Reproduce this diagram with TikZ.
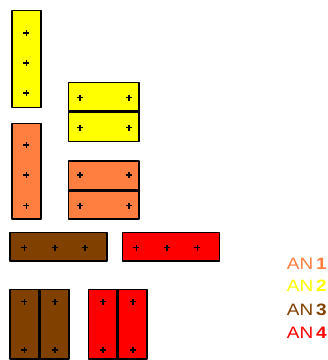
\documentclass[tikz,border=0pt]{standalone}
\usepackage{fontspec}
\usepackage{xcolor}
\usepackage{tikz}
\newfontfamily\legendfont{Liberation Sans}
\definecolor{anone}{HTML}{FF7F40}
\definecolor{antwo}{HTML}{FFFF00}
\definecolor{anthree}{HTML}{804000}
\definecolor{anfour}{HTML}{FF0000}

\begin{document}
\begin{tikzpicture}[x=1pt,y=-1pt,line join=round,
  plate/.style={draw=black,line width=1.5pt},
  seam/.style={draw=black,line width=3pt},
  bolt/.style={black,line width=1.5pt},
  legend/.style={anchor=base east,inner sep=0pt,xscale=1.15,font=\legendfont\fontsize{16.5}{16.5}\selectfont}]
  \useasboundingbox (0,0) rectangle (328,360);
  % yellow plates
  \draw[plate,fill=antwo] (12,10.5) rectangle (41,107.5);
  \draw[plate,fill=antwo] (68.5,82.5) rectangle (139,111);
  \draw[plate,fill=antwo] (68.5,111) rectangle (139,141.5);
  \draw[seam] (68.5,111) -- (139,111);
  % orange plates
  \draw[plate,fill=anone] (12,123.5) rectangle (41,219);
  \draw[plate,fill=anone] (68.5,161) rectangle (139,190);
  \draw[plate,fill=anone] (68.5,190) rectangle (139,219);
  \draw[seam] (68.5,190) -- (139,190);
  % brown and red plates
  \draw[plate,fill=anthree] (10,232.5) rectangle (107,261);
  \draw[plate,fill=anfour] (122.5,232.5) rectangle (219.5,261);
  \draw[plate,fill=anthree] (10,289.5) rectangle (39.5,359);
  \draw[plate,fill=anthree] (39.5,289.5) rectangle (69,359);
  \draw[seam] (39.5,289.5) -- (39.5,359);
  \draw[plate,fill=anfour] (88.5,289.5) rectangle (118,359);
  \draw[plate,fill=anfour] (118,289.5) rectangle (147,359);
  \draw[seam] (118,289.5) -- (118,359);
  % bolts
  \foreach \x/\y in {26.5/33,26.5/63,26.5/93,80/97.5,129/97.5,80/127.5,129/127.5,
    26.5/145,26.5/175,26.5/205.5,80/175,129/175,80/205.5,129/205.5,
    24.5/247.5,55/247.5,85/247.5,136.5/247.5,167/247.5,197.5/247.5,
    24.5/301.5,55/301.5,24.5/350,55/350,103/301.5,133/301.5,103/350,133/350}
    \draw[bolt] (\x-3,\y) -- (\x+3,\y) (\x,\y-3) -- (\x,\y+3);
  % legend
  \node[legend,anone] (an1) at (327,269.5) {AN\hspace{2.5pt}{\bfseries 1}};
  \node[legend,antwo] (an2) at (327,291.5) {AN\hspace{2.5pt}{\bfseries 2}};
  \node[legend,anthree] (an3) at (327,315) {AN\hspace{2.5pt}{\bfseries 3}};
  \node[legend,anfour] (an4) at (327,338) {AN\hspace{2.5pt}{\bfseries 4}};
\end{tikzpicture}
\end{document}
